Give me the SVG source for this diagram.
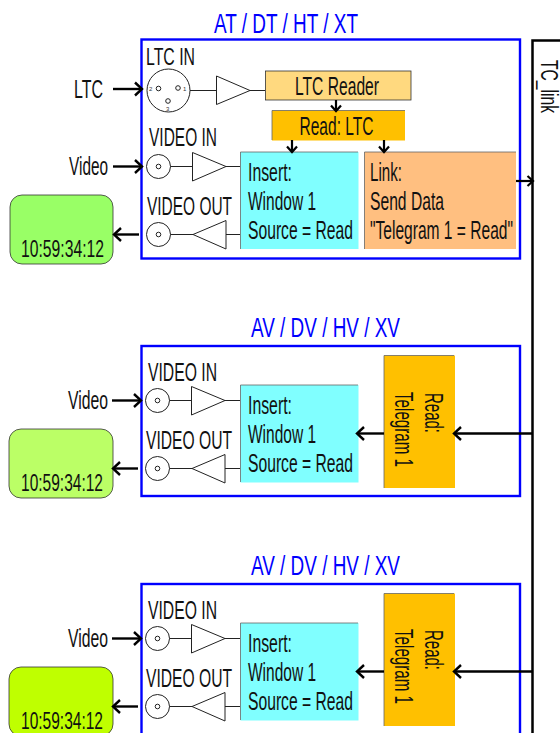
<svg xmlns="http://www.w3.org/2000/svg" width="560" height="733" viewBox="0 0 560 733">
<style>
text{font-family:"Liberation Sans",Arial,sans-serif;font-size:25px;fill:#111}
.t{fill:#0000ff;font-size:27px}
.f{fill:#fff;stroke:#0000ff;stroke-width:2.4}
.l{fill:none;stroke:#222;stroke-width:1}
.s{fill:#fff;stroke:#222;stroke-width:1}
.a{fill:none;stroke:#000;stroke-width:2.400;marker-end:url(#ah)}
.b{fill:none;stroke:#000;stroke-width:2.200;marker-end:url(#sm)}
.n{stroke:#666;stroke-width:.8}
.g{stroke:#333;stroke-width:.8}
.p{font-size:6px;fill:#333}
</style>
<defs>
<marker id="ah" markerUnits="userSpaceOnUse" markerWidth="14" markerHeight="16" refX="10" refY="8" orient="auto">
<path d="M3 1.500L10 8L3 14.500" fill="none" stroke="#000" stroke-width="2.400"/>
</marker>
<marker id="sm" markerUnits="userSpaceOnUse" markerWidth="14" markerHeight="14" refX="9" refY="7" orient="auto">
<path d="M3.500 2L9 7L3.500 12" fill="none" stroke="#000" stroke-width="2.200"/>
</marker>
</defs>

<g id="tc-link-bus">
<path d="M560 40.500H532.500V733" fill="none" stroke="#000" stroke-width="2.500"/>
<text transform="translate(541 60) rotate(90)" textLength="53" lengthAdjust="spacingAndGlyphs" style="font-size:23px">TC_link</text>
</g>

<g id="frame-1">
<text class="t" x="214" y="33" textLength="144" lengthAdjust="spacingAndGlyphs">AT / DT / HT / XT</text>
<rect class="f" x="141.500" y="39.500" width="378.500" height="219"/>
</g>
<g id="frame-2">
<text class="t" x="251" y="337" textLength="149" lengthAdjust="spacingAndGlyphs">AV / DV / HV / XV</text>
<rect class="f" x="141.500" y="346" width="378.500" height="150"/>
</g>
<g id="frame-3">
<text class="t" x="251" y="575" textLength="149" lengthAdjust="spacingAndGlyphs">AV / DV / HV / XV</text>
<rect class="f" x="141.500" y="584" width="378.500" height="160"/>
</g>

<g id="ltc-in">
<text x="146" y="64.500" textLength="49" lengthAdjust="spacingAndGlyphs" style="font-size:24px">LTC IN</text>
<circle class="s" cx="168.500" cy="90.500" r="21.500"/>
<circle class="s" cx="158.500" cy="88.500" r="2.300"/>
<circle class="s" cx="178" cy="88" r="2.300"/>
<circle class="s" cx="168" cy="101" r="2.300"/>
<text class="p" x="149" y="91">2</text>
<text class="p" x="183" y="91">1</text>
<text class="p" x="166" y="111">3</text>
<path class="l" d="M190 90.500H216.500M250 90.500H265"/>
<polygon class="s" points="216.500,76 216.500,104.500 250,90.500"/>
</g>
<g id="ltc-reader">
<rect x="265.500" y="71" width="145.500" height="29" fill="#ffd97f" class="g"/>
<text x="295" y="95" textLength="84" lengthAdjust="spacingAndGlyphs">LTC Reader</text>
</g>
<g id="read-ltc">
<rect x="272" y="110.500" width="133" height="30" fill="#ffc000"/>
<path d="M272 110.500H405M272 110.500V140" class="n" fill="none"/>
<text x="299.500" y="134.500" textLength="74" lengthAdjust="spacingAndGlyphs">Read: LTC</text>
</g>
<g id="insert-1">
<rect x="240.500" y="152" width="118" height="97" fill="#80ffff"/>
<path d="M240.500 249V152H358" class="n" fill="none"/>
<text x="248" y="180.500" textLength="44" lengthAdjust="spacingAndGlyphs">Insert:</text>
<text x="248" y="210" textLength="68" lengthAdjust="spacingAndGlyphs">Window 1</text>
<text x="248" y="239" textLength="105" lengthAdjust="spacingAndGlyphs">Source = Read</text>
</g>
<g id="link">
<rect x="364.500" y="152" width="151.500" height="97" fill="#ffbf80"/>
<path d="M364.500 249V152H516" class="n" fill="none"/>
<text x="370" y="180.500" textLength="32" lengthAdjust="spacingAndGlyphs">Link:</text>
<text x="370" y="210" textLength="74" lengthAdjust="spacingAndGlyphs">Send Data</text>
<text x="370" y="239" textLength="143" lengthAdjust="spacingAndGlyphs">"Telegram 1 = Read"</text>
</g>
<g id="video-in-1">
<text x="149" y="146" textLength="68" lengthAdjust="spacingAndGlyphs">VIDEO IN</text>
<circle class="s" cx="158.500" cy="166.500" r="12"/><circle class="s" cx="158.500" cy="166.500" r="2.300"/>
<path class="l" d="M170.500 166.500H192.500M226 166.500H240"/>
<polygon class="s" points="192.500,152.500 192.500,181 226,166.500"/>
</g>
<g id="video-out-1">
<text x="147" y="214.500" textLength="85" lengthAdjust="spacingAndGlyphs">VIDEO OUT</text>
<circle class="s" cx="158.500" cy="234.500" r="12"/><circle class="s" cx="158.500" cy="234.500" r="2.300"/>
<path class="l" d="M170.500 234.500H193M226 234.500H240"/>
<polygon class="s" points="226,220.500 226,249 193,234.500"/>
</g>
<g id="monitor-1">
<rect x="10" y="195" width="103" height="69" rx="12" fill="#99ff66" class="g"/>
<text x="21" y="257" textLength="83" lengthAdjust="spacingAndGlyphs" style="font-size:24px">10:59:34:12</text>
</g>
<g id="ltc-label"><text x="74" y="98" textLength="29" lengthAdjust="spacingAndGlyphs">LTC</text></g>
<g id="video-label-1"><text x="69" y="175" textLength="39" lengthAdjust="spacingAndGlyphs">Video</text></g>

<g id="video-in-2">
<text x="148" y="380.500" textLength="69" lengthAdjust="spacingAndGlyphs">VIDEO IN</text>
<circle class="s" cx="157.500" cy="400.500" r="12"/><circle class="s" cx="157.500" cy="400.500" r="2.300"/>
<path class="l" d="M169.500 400.500H191.500M225 400.500H240"/>
<polygon class="s" points="191.500,386.500 191.500,415 225,400.500"/>
</g>
<g id="video-out-2">
<text x="146" y="448.500" textLength="86" lengthAdjust="spacingAndGlyphs">VIDEO OUT</text>
<circle class="s" cx="157.500" cy="468.500" r="12"/><circle class="s" cx="157.500" cy="468.500" r="2.300"/>
<path class="l" d="M169.500 468.500H192M225 468.500H240"/>
<polygon class="s" points="225,454.500 225,483 192,468.500"/>
</g>
<g id="insert-2">
<rect x="240.500" y="385" width="118" height="97.500" fill="#80ffff"/>
<path d="M240.500 482V385H358" class="n" fill="none"/>
<text x="248" y="413.500" textLength="44" lengthAdjust="spacingAndGlyphs">Insert:</text>
<text x="248" y="443" textLength="68" lengthAdjust="spacingAndGlyphs">Window 1</text>
<text x="248" y="472" textLength="105" lengthAdjust="spacingAndGlyphs">Source = Read</text>
</g>
<g id="read-telegram-2">
<rect x="384" y="355.500" width="71" height="132.500" fill="#ffc000"/>
<path d="M384 488V355.500H454" class="n" fill="none"/>
<text transform="translate(425 393) rotate(90)" textLength="40" lengthAdjust="spacingAndGlyphs">Read:</text>
<text transform="translate(395 392) rotate(90)" textLength="75" lengthAdjust="spacingAndGlyphs">Telegram 1</text>
</g>
<g id="monitor-2">
<rect x="9" y="429" width="104" height="69" rx="12" fill="#bbff66" class="g"/>
<text x="21" y="491" textLength="82" lengthAdjust="spacingAndGlyphs" style="font-size:24px">10:59:34:12</text>
</g>
<g id="video-label-2"><text x="68" y="409" textLength="40" lengthAdjust="spacingAndGlyphs">Video</text></g>

<g id="video-in-3">
<text x="148" y="618.500" textLength="69" lengthAdjust="spacingAndGlyphs">VIDEO IN</text>
<circle class="s" cx="157.500" cy="638.500" r="12"/><circle class="s" cx="157.500" cy="638.500" r="2.300"/>
<path class="l" d="M169.500 638.500H191.500M225 638.500H240"/>
<polygon class="s" points="191.500,624.500 191.500,653 225,638.500"/>
</g>
<g id="video-out-3">
<text x="146" y="686.500" textLength="86" lengthAdjust="spacingAndGlyphs">VIDEO OUT</text>
<circle class="s" cx="157.500" cy="706.500" r="12"/><circle class="s" cx="157.500" cy="706.500" r="2.300"/>
<path class="l" d="M169.500 706.500H192M225 706.500H240"/>
<polygon class="s" points="225,692.500 225,721 192,706.500"/>
</g>
<g id="insert-3">
<rect x="240.500" y="623" width="118" height="97.500" fill="#80ffff"/>
<path d="M240.500 720V623H358" class="n" fill="none"/>
<text x="248" y="651.500" textLength="44" lengthAdjust="spacingAndGlyphs">Insert:</text>
<text x="248" y="681" textLength="68" lengthAdjust="spacingAndGlyphs">Window 1</text>
<text x="248" y="710" textLength="105" lengthAdjust="spacingAndGlyphs">Source = Read</text>
</g>
<g id="read-telegram-3">
<rect x="384" y="593.500" width="71" height="132.500" fill="#ffc000"/>
<path d="M384 726V593.500H454" class="n" fill="none"/>
<text transform="translate(425 630) rotate(90)" textLength="40" lengthAdjust="spacingAndGlyphs">Read:</text>
<text transform="translate(395 629) rotate(90)" textLength="75" lengthAdjust="spacingAndGlyphs">Telegram 1</text>
</g>
<g id="monitor-3">
<rect x="9" y="667" width="104" height="69" rx="12" fill="#bfff00" class="g"/>
<text x="21" y="729" textLength="82" lengthAdjust="spacingAndGlyphs" style="font-size:24px">10:59:34:12</text>
</g>
<g id="video-label-3"><text x="68" y="647" textLength="40" lengthAdjust="spacingAndGlyphs">Video</text></g>

<g id="connectors">
<path class="a" d="M113 89H142"/>
<path class="a" d="M113 166.500H142"/>
<path class="a" d="M139 234.500H114"/>
<path class="b" d="M336 100V111"/>
<path class="b" d="M292 140V152"/>
<path class="b" d="M384 140V152"/>
<path class="b" d="M516 181H533"/>
<path class="a" d="M112 400.500H141"/>
<path class="a" d="M138 468.500H113"/>
<path class="a" d="M532 433.500H454"/>
<path class="a" d="M384 433.500H357"/>
<path class="a" d="M112 638.500H141"/>
<path class="a" d="M138 706.500H113"/>
<path class="a" d="M532 671.500H454"/>
<path class="a" d="M384 671.500H357"/>
</g>
</svg>
